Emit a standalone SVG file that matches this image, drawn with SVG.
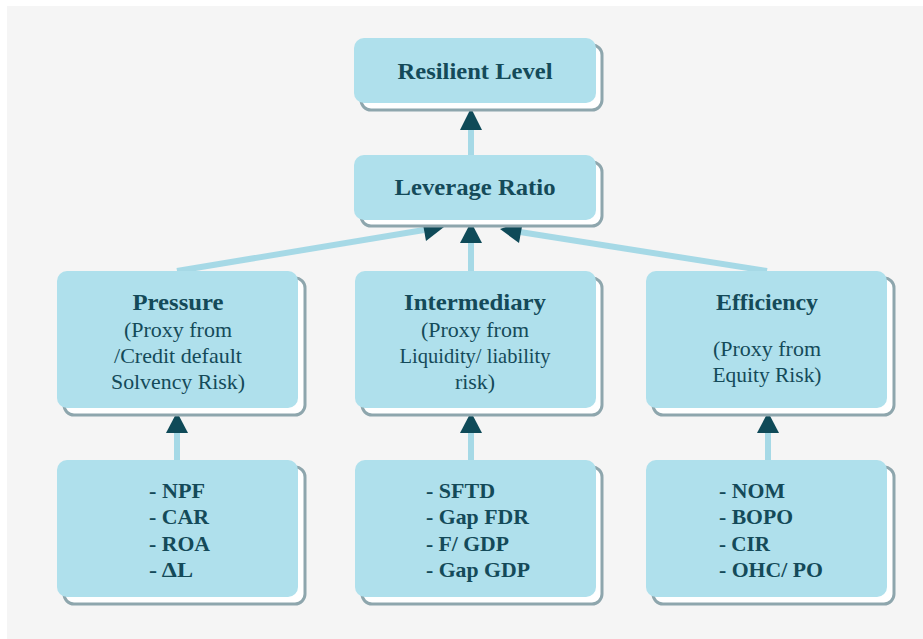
<svg xmlns="http://www.w3.org/2000/svg" width="923" height="639" viewBox="0 0 923 639">
<style>
.shadow{fill:#ffffff;stroke:#8ea6ad;stroke-width:3}
.box{fill:#afe0ec}
text{font-family:"Liberation Serif","DejaVu Serif","Noto Serif",serif;fill:#144a59}
.t{text-anchor:middle}
.title{font-size:24px;font-weight:bold}
.sub{font-size:22px}
.list{font-size:22px;font-weight:bold}
.line{stroke:#a6d9e6;stroke-width:6;fill:none}
.head{fill:#0f4a58}
</style>
<rect x="0" y="0" width="923" height="639" fill="#ffffff"/>
<rect x="7" y="6" width="916" height="633" fill="#f5f5f5"/>

<g id="connectors">
<line class="line" x1="471" y1="155" x2="471" y2="128"/>
<polygon class="head" points="471,108 460,130 482,130"/>
<line class="line" x1="471" y1="271" x2="471" y2="241"/>
<polygon class="head" points="471,222 460,243 482,243"/>
<line class="line" x1="177" y1="271" x2="424" y2="230"/>
<polygon class="head" points="444,227 422,219 426,241"/>
<line class="line" x1="767" y1="271" x2="520" y2="232"/>
<polygon class="head" points="500,229 523,221 519,243"/>
<line class="line" x1="177" y1="460" x2="177" y2="431"/>
<polygon class="head" points="177,412 166,433 188,433"/>
<line class="line" x1="471" y1="460" x2="471" y2="431"/>
<polygon class="head" points="471,412 460,433 482,433"/>
<line class="line" x1="768" y1="460" x2="768" y2="431"/>
<polygon class="head" points="768,412 757,433 779,433"/>
</g>

<g id="resilient">
<rect class="shadow" x="361" y="45" width="241" height="65" rx="10"/>
<rect class="box" x="354" y="38" width="242" height="65" rx="10"/>
<text class="t title" x="475" y="79" textLength="155" lengthAdjust="spacingAndGlyphs">Resilient Level</text>
</g>

<g id="leverage">
<rect class="shadow" x="361" y="162" width="241" height="64" rx="10"/>
<rect class="box" x="354" y="155" width="242" height="65" rx="10"/>
<text class="t title" x="475" y="195" textLength="161" lengthAdjust="spacingAndGlyphs">Leverage Ratio</text>
</g>

<g id="pressure">
<rect class="shadow" x="64" y="278" width="241" height="137" rx="10"/>
<rect class="box" x="57" y="271" width="241" height="137" rx="10"/>
<text class="t title" x="178" y="310" textLength="91" lengthAdjust="spacingAndGlyphs">Pressure</text>
<text class="t sub" x="178" y="337" textLength="108" lengthAdjust="spacingAndGlyphs">(Proxy from</text>
<text class="t sub" x="178" y="363" textLength="128" lengthAdjust="spacingAndGlyphs">/Credit default</text>
<text class="t sub" x="178" y="389" textLength="134" lengthAdjust="spacingAndGlyphs">Solvency Risk)</text>
</g>

<g id="intermediary">
<rect class="shadow" x="362" y="278" width="240" height="137" rx="10"/>
<rect class="box" x="355" y="271" width="241" height="137" rx="10"/>
<text class="t title" x="475" y="310" textLength="142" lengthAdjust="spacingAndGlyphs">Intermediary</text>
<text class="t sub" x="475" y="337" textLength="108" lengthAdjust="spacingAndGlyphs">(Proxy from</text>
<text class="t sub" x="475" y="363" textLength="151" lengthAdjust="spacingAndGlyphs">Liquidity/ liability</text>
<text class="t sub" x="475" y="389" textLength="40" lengthAdjust="spacingAndGlyphs">risk)</text>
</g>

<g id="efficiency">
<rect class="shadow" x="653" y="278" width="241" height="137" rx="10"/>
<rect class="box" x="646" y="271" width="241" height="137" rx="10"/>
<text class="t title" x="767" y="310" textLength="102" lengthAdjust="spacingAndGlyphs">Efficiency</text>
<text class="t sub" x="767" y="356" textLength="108" lengthAdjust="spacingAndGlyphs">(Proxy from</text>
<text class="t sub" x="767" y="382" textLength="109" lengthAdjust="spacingAndGlyphs">Equity Risk)</text>
</g>

<g id="pressure-indicators">
<rect class="shadow" x="64" y="467" width="241" height="137" rx="10"/>
<rect class="box" x="57" y="460" width="241" height="137" rx="10"/>
<text class="list" x="149" y="498" textLength="56" lengthAdjust="spacingAndGlyphs">- NPF</text>
<text class="list" x="149" y="524" textLength="60" lengthAdjust="spacingAndGlyphs">- CAR</text>
<text class="list" x="149" y="551" textLength="61" lengthAdjust="spacingAndGlyphs">- ROA</text>
<text class="list" x="149" y="577" textLength="44" lengthAdjust="spacingAndGlyphs">- ΔL</text>
</g>

<g id="intermediary-indicators">
<rect class="shadow" x="362" y="467" width="240" height="137" rx="10"/>
<rect class="box" x="355" y="460" width="241" height="137" rx="10"/>
<text class="list" x="426" y="498" textLength="69" lengthAdjust="spacingAndGlyphs">- SFTD</text>
<text class="list" x="426" y="524" textLength="103" lengthAdjust="spacingAndGlyphs">- Gap FDR</text>
<text class="list" x="426" y="551" textLength="83" lengthAdjust="spacingAndGlyphs">- F/ GDP</text>
<text class="list" x="426" y="577" textLength="104" lengthAdjust="spacingAndGlyphs">- Gap GDP</text>
</g>

<g id="efficiency-indicators">
<rect class="shadow" x="653" y="467" width="241" height="137" rx="10"/>
<rect class="box" x="646" y="460" width="241" height="137" rx="10"/>
<text class="list" x="719" y="498" textLength="66" lengthAdjust="spacingAndGlyphs">- NOM</text>
<text class="list" x="719" y="524" textLength="74" lengthAdjust="spacingAndGlyphs">- BOPO</text>
<text class="list" x="719" y="551" textLength="51" lengthAdjust="spacingAndGlyphs">- CIR</text>
<text class="list" x="719" y="577" textLength="104" lengthAdjust="spacingAndGlyphs">- OHC/ PO</text>
</g>
</svg>
